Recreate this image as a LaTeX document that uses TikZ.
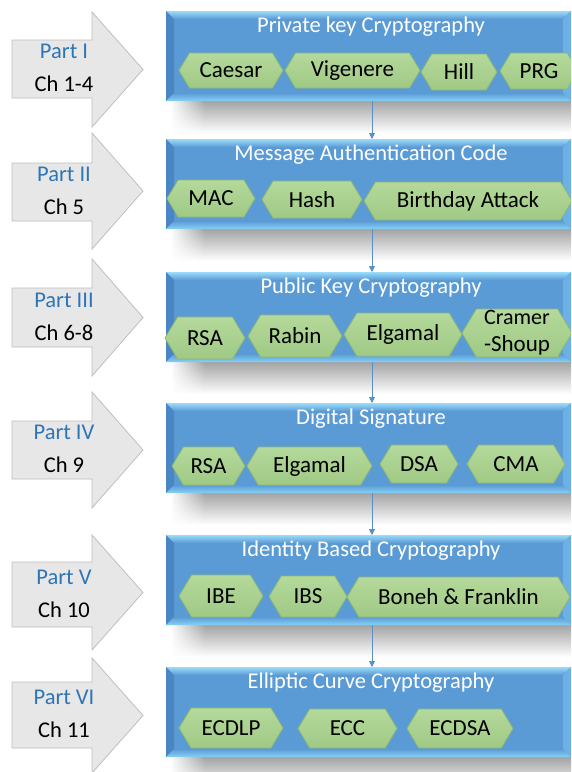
\documentclass[tikz,border=0pt]{standalone}
\usepackage{fontspec}
\setmainfont{Carlito}
\usetikzlibrary{arrows.meta,calc,fadings}
\definecolor{boxblue}{HTML}{5B9BD5}
\definecolor{bevtop}{HTML}{9ADCFA}
\definecolor{bevbot}{HTML}{86D2F6}
\definecolor{bevleft}{HTML}{4A86C3}
\definecolor{bevright}{HTML}{6DB0E4}
\definecolor{hexlight}{HTML}{B4D99B}
\definecolor{hexdark}{HTML}{A0C985}
\definecolor{hexline}{HTML}{8DBA70}
\definecolor{partblue}{HTML}{2E75B6}
\definecolor{arrowfill}{HTML}{E7E7E7}
\definecolor{arrowline}{HTML}{BFBFBF}
\definecolor{connblue}{HTML}{5B8FC7}
\tikzfading[name=fadeleft, left color=transparent!0, right color=transparent!100]
\tikzset{
  hextext/.style={font=\fontsize{23}{27}\selectfont, text=black, inner sep=0pt, align=center},
  titletext/.style={font=\fontsize{22.5}{26}\selectfont, text=white, inner sep=0pt},
  parttext/.style={font=\fontsize{22.5}{33}\selectfont, text=black, inner sep=0pt, align=center},
  arrowstyle/.style={fill=arrowfill, draw=arrowline, line width=0.8pt},
  conn/.style={draw=connblue, line width=0.9pt, -{Triangle[width=6pt,length=6pt]}},
}
\newcommand{\hexa}[6]{%
  \pgfmathsetmacro{\hm}{(#4+#5)/2}%
  \pgfmathsetmacro{\hd}{0.3*(#5-#4)}%
  \shadedraw[top color=hexlight, bottom color=hexdark, draw=hexline, line width=0.8pt]
    (#2,\hm) -- (#2+\hd,#4) -- (#3-\hd,#4) -- (#3,\hm) -- (#3-\hd,#5) -- (#2+\hd,#5) -- cycle;
  \node[hextext] (#1) at ({(#2+#3)/2},\hm) {#6};}
\newcommand{\bluebox}[3]{%
  \pgfmathsetmacro{\yb}{#2+90}%
  \shade[top color=black!36, bottom color=white] (172,\yb) rectangle (571,\yb+32);
  \fill[white, path fading=fadeleft] (170,\yb) rectangle (205,\yb+32);
  \fill[boxblue] (166,#2) rectangle (571,\yb);
  \shade[top color=bevtop, bottom color=boxblue] (166,#2) -- (571,#2) -- (563,#2+8) -- (174,#2+8) -- cycle;
  \fill[bevleft] (166,#2) -- (174,#2+8) -- (174,\yb-8) -- (166,\yb) -- cycle;
  \fill[bevright] (571,#2) -- (563,#2+8) -- (563,\yb-8) -- (571,\yb) -- cycle;
  \shade[top color=boxblue, bottom color=bevbot] (166,\yb) -- (174,\yb-8) -- (563,\yb-8) -- (571,\yb) -- cycle;
  \node[minimum width=405pt, minimum height=90pt, inner sep=0pt, outer sep=0pt] (#1) at (368.5,#2+45) {};
  \node[titletext] (#1t) at (371,#2+16) {#3};}
\newcommand{\partarrow}[7]{%
  \filldraw[arrowstyle] (12,#3) -- (92,#3) -- (92,#2) -- (143,{(#2+#5)/2}) -- (92,#5) -- (92,#4) -- (12,#4) -- cycle;
  \node[parttext] (#1) at (64,{(#3+#4)/2-1}) {\textcolor{partblue}{#6}\\#7};}
\begin{document}
\begin{tikzpicture}[x=1pt,y=-1pt]
\useasboundingbox (0,0) rectangle (571,772);
\clip (0,0) rectangle (571,772);
\fill[white] (0,0) rectangle (571,772);
% left arrows
\partarrow{p1}{12}{40}{98}{127}{Part I}{Ch 1-4}
\partarrow{p2}{133}{163}{221}{249}{Part II}{Ch 5}
\partarrow{p3}{259}{288}{347}{376}{Part III}{Ch 6-8}
\partarrow{p4}{392}{421}{479}{508}{Part IV}{Ch 9}
\partarrow{p5}{535}{562}{627}{650}{Part V}{Ch 10}
\partarrow{p6}{658}{682}{748}{773}{Part VI}{Ch 11}
% boxes
\bluebox{b1}{11}{Private key Cryptography}
\hexa{h11}{179}{283}{53}{88}{Caesar}
\hexa{h12}{285}{420}{53}{88}{Vigenere}
\hexa{h13}{421}{497}{54}{90}{Hill}
\hexa{h14}{500}{578}{53}{89}{PRG}
\bluebox{b2}{139}{Message Authentication Code}
\hexa{h21}{167}{255}{180}{217}{MAC}
\hexa{h22}{262}{362}{181}{218}{Hash}
\hexa{h23}{364}{572}{182}{220}{Birthday Attack}
\bluebox{b3}{272}{Public Key Cryptography}
\hexa{h31}{165}{245}{317}{359}{RSA}
\hexa{h32}{248}{342}{315}{357}{Rabin}
\hexa{h33}{344}{462}{313}{356}{Elgamal}
\hexa{h34}{462}{572}{309}{357}{\fontsize{22}{30}\selectfont Cramer\\-Shoup}
\bluebox{b4}{403}{Digital Signature}
\hexa{h41}{172}{245}{447}{485}{RSA}
\hexa{h42}{247}{372}{447}{485}{Elgamal}
\hexa{h43}{380}{458}{445}{483}{DSA}
\hexa{h44}{467}{565}{445}{483}{CMA}
\bluebox{b5}{535}{Identity Based Cryptography}
\hexa{h51}{179}{263}{575}{617}{IBE}
\hexa{h52}{269}{347}{576}{617}{IBS}
\hexa{h53}{347}{570}{577}{617}{Boneh \& Franklin}
\bluebox{b6}{667}{Elliptic Curve Cryptography}
\hexa{h61}{179}{283}{708}{748}{ECDLP}
\hexa{h62}{298}{397}{709}{748}{ECC}
\hexa{h63}{407}{513}{709}{748}{ECDSA}
% connectors
\draw[conn] ([xshift=3.5pt]b1.south) -- ([xshift=3.5pt]b2.north);
\draw[conn] ([xshift=3.5pt]b2.south) -- ([xshift=3.5pt]b3.north);
\draw[conn] ([xshift=3.5pt]b3.south) -- ([xshift=3.5pt]b4.north);
\draw[conn] ([xshift=3.5pt]b4.south) -- ([xshift=3.5pt]b5.north);
\draw[conn] ([xshift=3.5pt]b5.south) -- ([xshift=3.5pt]b6.north);
\end{tikzpicture}
\end{document}
